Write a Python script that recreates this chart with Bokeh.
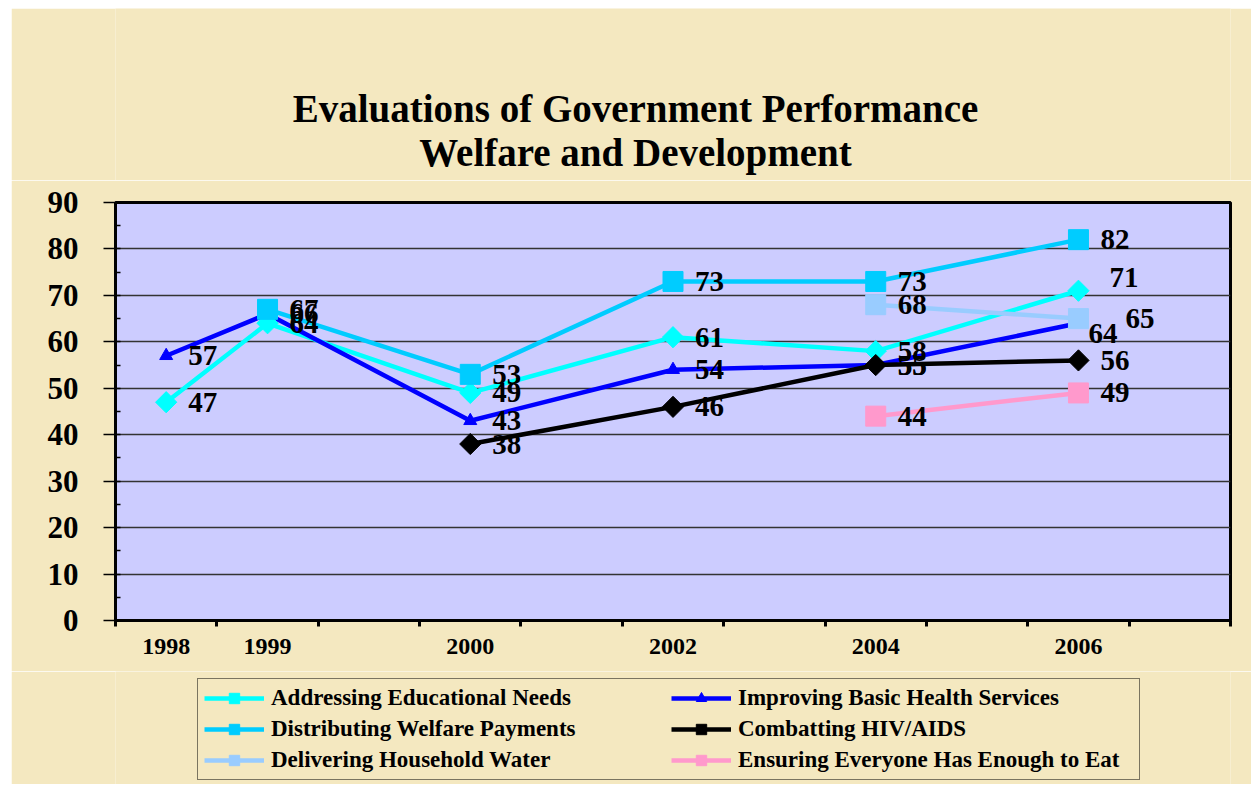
import math
from bokeh.plotting import figure
from bokeh.layouts import column
from bokeh.models import (ColumnDataSource, FixedTicker, SingleIntervalTicker,
                          Legend, LegendItem, Range1d, Label)
from bokeh.core.properties import value
from bokeh.embed import file_html
from bokeh.resources import INLINE

# ---------------- data ----------------
categories = ["1998", "1999", "", "2000", "", "2002", "", "2004", "", "2006", ""]
years = ["1998", "1999", "2000", "2002", "2004", "2006"]

educ_names = "Addressing Educational Needs"
health_name = "Improving Basic Health Services"
welfare_name = "Distributing Welfare Payments"
hiv_name = "Combatting HIV/AIDS"
water_name = "Delivering Household Water"
eat_name = "Ensuring Everyone Has Enough to Eat"

educ = [47, 64, 49, 61, 58, 71]
health = [57, 66, 43, 54, 55, 64]
welfare = [None, 67, 53, 73, 73, 82]
hiv = [None, None, 38, 46, 55, 56]
water = [None, None, None, None, 68, 65]
eat = [None, None, None, None, 44, 49]

title_lines = ["Evaluations of Government Performance", "Welfare and Development"]

# ---------------- styles ----------------
FONT = "Liberation Serif"
BG = "#F4E8C0"
PLOT_BG = "#CCCCFF"
W = 1240

styles = [
    (educ_names, educ, "#00FFFF", "square", 15, math.pi / 4),
    (health_name, health, "#0000FF", "triangle", 13, 0.0),
    (welfare_name, welfare, "#00CCFF", "square", 20, 0.0),
    (hiv_name, hiv, "#000000", "square", 15, math.pi / 4),
    (water_name, water, "#99CCFF", "square", 20, 0.0),
    (eat_name, eat, "#FF99CC", "square", 20, 0.0),
]
legend_order = [0, 2, 4, 1, 3, 5]

label_default = (22, 0)
label_adjust = {
    (health_name, "2006"): (10, 10),
    (water_name, "2006"): (47, 0),
    (educ_names, "2006"): (31, -13),
}

cat_pos = {c: i + 0.5 for i, c in enumerate(categories) if c}

# ---------------- title strip ----------------
tp = figure(width=W, height=172, output_backend="svg", toolbar_location=None,
            x_range=Range1d(-20, -19), y_range=Range1d(-20, -19),
            x_axis_type=None, y_axis_type=None, min_border=0)
tp.background_fill_color = BG
tp.border_fill_color = BG
tp.outline_line_color = None
tp.grid.visible = False
tp.title.visible = False
for txt, ypos in zip(title_lines, [72, 28]):
    tp.add_layout(Label(x=520, y=ypos, x_units="screen", y_units="screen", text=txt,
                        text_align="center", text_baseline="middle", text_font=FONT,
                        text_font_style="bold", text_font_size="39px",
                        text_color="black"))

# ---------------- main chart ----------------
p = figure(width=W, height=491, output_backend="svg", toolbar_location=None,
           x_range=Range1d(0, len(categories)), y_range=Range1d(0, 90),
           min_border_left=104, min_border_right=21, min_border_top=22,
           min_border_bottom=51)
p.title.visible = False
p.background_fill_color = PLOT_BG
p.border_fill_color = BG
p.outline_line_color = "black"
p.outline_line_width = 3

# x axis
xa = p.xaxis[0]
xa.ticker = FixedTicker(ticks=[cat_pos[y] for y in years],
                        minor_ticks=list(range(0, len(categories) + 1)))
xa.major_label_overrides = {cat_pos[y]: y for y in years}
xa.major_tick_in = 0
xa.major_tick_out = 0
xa.minor_tick_in = 0
xa.minor_tick_out = 6
xa.minor_tick_line_width = 3
xa.minor_tick_line_color = "black"
xa.axis_line_width = 3
xa.axis_line_color = "black"
xa.major_label_text_font = FONT
xa.major_label_text_font_style = "bold"
xa.major_label_text_font_size = "24px"
xa.major_label_text_color = "black"
xa.major_label_standoff = 12

# y axis
ya = p.yaxis[0]
ya.ticker = SingleIntervalTicker(interval=10, num_minor_ticks=2)
ya.major_tick_in = 0
ya.major_tick_out = 12
ya.major_tick_line_width = 1.5
ya.major_tick_line_color = "black"
ya.minor_tick_in = 5
ya.minor_tick_out = 0
ya.minor_tick_line_width = 1.5
ya.minor_tick_line_color = "black"
ya.axis_line_width = 3
ya.axis_line_color = "black"
ya.major_label_text_font = FONT
ya.major_label_text_font_style = "bold"
ya.major_label_text_font_size = "31px"
ya.major_label_text_color = "black"
ya.major_label_standoff = 25

p.xgrid.visible = False
p.ygrid.grid_line_color = "#333333"
p.ygrid.grid_line_width = 1.5
p.ygrid.ticker = SingleIntervalTicker(interval=10)

# build sources
sources = []
for name, vals, color, marker, size, angle in styles:
    xs, ys, txt, xo, yo = [], [], [], [], []
    for yr, v in zip(years, vals):
        if v is None:
            continue
        xs.append(cat_pos[yr])
        ys.append(v)
        txt.append(str(v))
        dx, dy = label_adjust.get((name, yr), label_default)
        xo.append(dx)
        yo.append(dy)
    sources.append(ColumnDataSource(dict(x=xs, y=ys, t=txt, xo=xo, yo=yo)))

for (name, vals, color, marker, size, angle), src in zip(styles, sources):
    p.line("x", "y", source=src, line_color=color, line_width=4.5)

for (name, vals, color, marker, size, angle), src in zip(styles, sources):
    p.scatter("x", "y", source=src, marker=marker, size=size,
              angle=angle, fill_color=color, line_color=color)

for src in sources:
    p.text("x", "y", text="t", source=src, x_offset="xo", y_offset="yo",
           text_font=value(FONT), text_font_style="bold", text_font_size="29px",
           text_color="black", text_align="left", text_baseline="middle")

# ---------------- legend strip ----------------
lp = figure(width=W, height=113, output_backend="svg", toolbar_location=None,
            x_range=Range1d(-20, -19), y_range=Range1d(-20, -19),
            x_axis_type=None, y_axis_type=None, min_border=0)
lp.background_fill_color = BG
lp.border_fill_color = BG
lp.outline_line_color = None
lp.grid.visible = False
lp.title.visible = False

leg_lines, leg_marks = [], []
for (name, vals, color, marker, size, angle), src in zip(styles, sources):
    leg_lines.append(lp.line("x", "y", source=src, line_color=color, line_width=4.5))
    leg_marks.append(lp.scatter("x", "y", source=src, marker=marker, size=size,
                                angle=angle, fill_color=color, line_color=color))

items = [LegendItem(label=styles[i][0], renderers=[leg_lines[i], leg_marks[i]])
         for i in legend_order]
legend = Legend(items=items, ncols=2, location=(82, 4))
legend.label_text_font = FONT
legend.label_text_font_style = "bold"
legend.label_text_font_size = "23px"
legend.label_text_color = "black"
legend.glyph_width = 60
legend.glyph_height = 26
legend.label_height = 26
legend.label_width = 395
legend.label_standoff = 7
legend.spacing = 5
legend.padding = 6
legend.margin = 0
legend.background_fill_alpha = 0
legend.border_line_color = "black"
legend.border_line_width = 1.5
lp.add_layout(legend)

layout = column(tp, p, lp, spacing=0, margin=(8, 0, 0, 11))
open("out.html", "w").write(file_html(layout, INLINE))
